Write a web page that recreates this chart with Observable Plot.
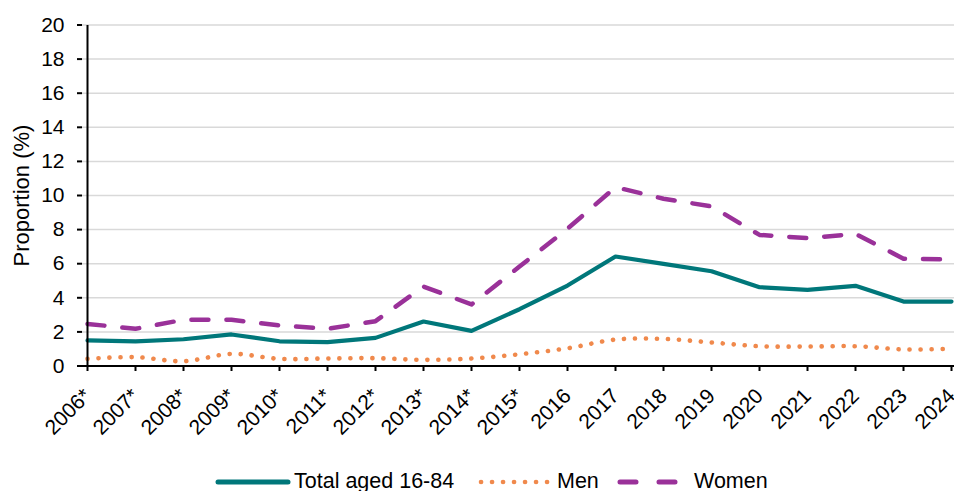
<!DOCTYPE html>
<html>
<head>
<meta charset="utf-8">
<script src="https://cdn.jsdelivr.net/npm/d3@7"></script>
<script src="https://cdn.jsdelivr.net/npm/@observablehq/plot@0.6"></script>
<style>
  html, body { margin: 0; padding: 0; background: #fff; }
  body { width: 954px; height: 491px; overflow: hidden; font-family: "Liberation Sans", Arial, sans-serif; }
  #chart svg { display: block; }
  .legend { position: relative; height: 31px; font-size: 21.5px; color: #000; }
  .legend .item { position: absolute; top: 6px; display: flex; align-items: center; height: 31px; }
  .legend svg { display: block; }
</style>
</head>
<body>
<div id="chart"></div>
<div class="legend" id="legend"></div>
<script>
const years = ["2006*","2007*","2008*","2009*","2010*","2011*","2012*","2013*","2014*","2015*","2016","2017","2018","2019","2020","2021","2022","2023","2024"];
const total = [1.5, 1.45, 1.57, 1.85, 1.45, 1.4, 1.65, 2.61, 2.06, 3.33, 4.72, 6.42, 5.99, 5.56, 4.62, 4.47, 4.7, 3.78, 3.78];
const men   = [0.42, 0.52, 0.28, 0.71, 0.42, 0.44, 0.46, 0.36, 0.44, 0.69, 1.04, 1.55, 1.59, 1.38, 1.16, 1.14, 1.16, 0.97, 1.01];
const women = [2.47, 2.18, 2.71, 2.71, 2.38, 2.18, 2.63, 4.66, 3.61, 5.83, 8.05, 10.49, 9.81, 9.36, 7.69, 7.5, 7.75, 6.29, 6.25];
const yTicks = [0, 2, 4, 6, 8, 10, 12, 14, 16, 18, 20];
const seriesNames = ["Total aged 16-84", "Men", "Women"];
const colors = {total: "#00777a", men: "#f0894c", women: "#9a3199"};

const xOf = (d, i) => years[i];

const chart = Plot.plot({
  width: 954,
  height: 460,
  marginLeft: 82,
  marginRight: 0,
  marginTop: 25,
  marginBottom: 95,
  style: {fontFamily: "'Liberation Sans', Arial, sans-serif", fontSize: "21px", color: "#000", background: "#fff"},
  x: {type: "point", domain: years, range: [82, 955], padding: 0},
  y: {domain: [0, 20], range: [365.5, 24.5]},
  marks: [
    Plot.gridY(yTicks.filter(d => d > 0), {stroke: "#d9d9d9", strokeOpacity: 1, strokeWidth: 1.5}),
    Plot.line(men, {x: xOf, y: d => d, stroke: colors.men, strokeWidth: 4.6, strokeDasharray: "0.1,10.9", strokeLinecap: "round", curve: "catmull-rom"}),
    Plot.line(women, {x: xOf, y: d => d, stroke: colors.women, strokeWidth: 4.5, strokeDasharray: "17,18", strokeLinecap: "round"}),
    Plot.line(total, {x: xOf, y: d => d, stroke: colors.total, strokeWidth: 4.2}),
    Plot.ruleY([0], {stroke: "#000", strokeWidth: 2}),
    Plot.ruleX([years[0]], {stroke: "#000", strokeWidth: 2}),
    Plot.axisY(yTicks, {anchor: "left", tickSize: 5, tickPadding: 13, strokeWidth: 2, fontSize: 21, label: null}),
    Plot.axisY({anchor: "left", ticks: [], tickSize: 0, fontSize: 22, label: "Proportion (%)", labelAnchor: "center", labelArrow: "none", labelOffset: 69}),
    Plot.axisX(years, {anchor: "bottom", tickSize: 6, tickPadding: 21, strokeWidth: 2, fontSize: 21, tickRotate: -45, label: null})
  ]
});
document.getElementById("chart").appendChild(chart);

// Legend
const legend = document.getElementById("legend");
const items = [
  {name: seriesNames[0], left: 215, sw: 76, line: `<line x1="3" y1="10" x2="73" y2="10" stroke="${colors.total}" stroke-width="5" stroke-linecap="round"/>`},
  {name: seriesNames[1], left: 478, sw: 76, line: `<line x1="3" y1="10" x2="73" y2="10" stroke="${colors.men}" stroke-width="4.6" stroke-linecap="round" stroke-dasharray="0.1,10.9"/>`},
  {name: seriesNames[2], left: 615, sw: 76, line: `<line x1="5" y1="10" x2="60" y2="10" stroke="${colors.women}" stroke-width="5" stroke-linecap="round" stroke-dasharray="16,23"/>`}
];
for (const it of items) {
  const div = document.createElement("div");
  div.className = "item";
  div.style.left = it.left + "px";
  div.innerHTML = `<svg width="${it.sw}" height="20">${it.line}</svg><span style="margin-left:3px">${it.name}</span>`;
  legend.appendChild(div);
}
</script>
</body>
</html>
